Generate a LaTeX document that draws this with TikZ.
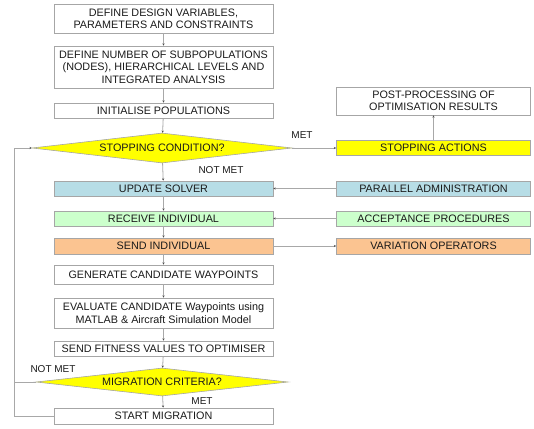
\documentclass[tikz,border=0pt]{standalone}
\usepackage{fontspec}
\setmainfont{Liberation Sans}
\usetikzlibrary{shapes.geometric,arrows.meta,positioning}
\definecolor{boxline}{HTML}{A6A6A6}
\definecolor{conn}{HTML}{A8A8A8}
\definecolor{solverblue}{HTML}{B7DDE6}
\definecolor{recvgreen}{HTML}{CCFFCC}
\definecolor{sendorange}{HTML}{FBC491}
\definecolor{decyellow}{HTML}{FFFF00}
\definecolor{txt}{HTML}{1A1A1A}
\tikzset{
  procbox/.style={draw=boxline, line width=0.8pt, rectangle, inner sep=0pt,
    align=center, text=txt, font=\fontsize{10.8}{12.4}\selectfont},
  mainbox/.style={procbox, minimum width=219pt},
  sidebox/.style={procbox, minimum width=194pt},
  decision/.style={diamond, draw=boxline, line width=0.6pt, fill=decyellow,
    inner sep=0pt, shape aspect=8.6, text=txt, font=\fontsize{10.8}{12.4}\selectfont},
  flow/.style={draw=conn, line width=0.8pt,
    -{Stealth[length=2.2pt,width=2.2pt,color=black!70]}},
  link/.style={draw=conn, line width=0.8pt},
  lbl/.style={text=txt, font=\fontsize{10}{11}\selectfont, inner sep=0pt}
}
\begin{document}
\begin{tikzpicture}[x=1pt,y=-1pt]
\useasboundingbox (0,0) rectangle (534,428);

% main column
\node[mainbox, minimum height=29pt] (design) at (163.5,18.5)
  {DEFINE DESIGN VARIABLES,\\PARAMETERS AND CONSTRAINTS};
\node[mainbox, minimum height=42pt] (subpop) at (163.5,67)
  {DEFINE NUMBER OF SUBPOPULATIONS\\(NODES), HIERARCHICAL LEVELS AND\\INTEGRATED ANALYSIS};
\node[mainbox, minimum height=15pt] (init) at (163.5,110.5) {INITIALISE POPULATIONS};
\node[decision, minimum width=260pt, minimum height=30pt] (stop) at (162,148)
  {STOPPING CONDITION?};
\node[mainbox, minimum height=15pt, fill=solverblue] (update) at (163.5,188.5) {UPDATE SOLVER};
\node[mainbox, minimum height=15pt, fill=recvgreen] (receive) at (163.5,218.5) {RECEIVE INDIVIDUAL};
\node[mainbox, minimum height=16pt, fill=sendorange] (send) at (163.5,246) {SEND INDIVIDUAL};
\node[mainbox, minimum height=19pt] (generate) at (163.5,274.5) {GENERATE CANDIDATE WAYPOINTS};
\node[mainbox, minimum height=30pt] (evaluate) at (163.5,313)
  {EVALUATE CANDIDATE Waypoints using\\MATLAB \& Aircraft Simulation Model};
\node[mainbox, minimum height=15pt] (fitness) at (163.5,348.5) {SEND FITNESS VALUES TO OPTIMISER};
\node[decision, minimum width=252pt, minimum height=28pt] (migrate) at (162,382)
  {MIGRATION CRITERIA?};
\node[mainbox, minimum height=16pt] (startmig) at (163.5,416) {START MIGRATION};

% side column
\node[sidebox, minimum height=28pt] (post) at (433.5,101)
  {POST-PROCESSING OF\\OPTIMISATION RESULTS};
\node[sidebox, minimum height=15pt, fill=decyellow] (stopact) at (433.5,148) {STOPPING ACTIONS};
\node[sidebox, minimum height=15pt, fill=solverblue] (parallel) at (433.5,188.5) {PARALLEL ADMINISTRATION};
\node[sidebox, minimum height=15pt, fill=recvgreen] (accept) at (433.5,218.5) {ACCEPTANCE PROCEDURES};
\node[sidebox, minimum height=16pt, fill=sendorange] (variation) at (433.5,246) {VARIATION OPERATORS};

% return path on the left
\coordinate (loopbot) at (14,416);

% main flow
\draw[flow] (design) -- (subpop);
\draw[flow] (subpop) -- (init);
\draw[flow] (init) -- (stop);
\draw[flow] (stop) -- (update);
\draw[flow] (update) -- (receive);
\draw[flow] (receive) -- (send);
\draw[flow] (send) -- (generate);
\draw[flow] (generate) -- (evaluate);
\draw[flow] (evaluate) -- (fitness);
\draw[flow] (fitness) -- (migrate);
\draw[flow] (migrate) -- (startmig);

% side connections
\draw[flow] (stop.east) -- (stopact.west);
\draw[flow] (stopact) -- (post);
\draw[flow] (parallel) -- (update);
\draw[flow] (accept) -- (receive);
\draw[flow] (send) -- (variation);

% loops back to the stopping test
\draw[flow] (startmig.west) -- (loopbot) |- (stop.west);
\draw[link] (migrate.west) -- (migrate.west -| loopbot);

% branch labels
\node[lbl] (metA) at (302,135) {MET};
\node[lbl] (notmetA) at (221,170) {NOT MET};
\node[lbl] (notmetB) at (53,369) {NOT MET};
\node[lbl] (metB) at (202,401) {MET};
\end{tikzpicture}
\end{document}
